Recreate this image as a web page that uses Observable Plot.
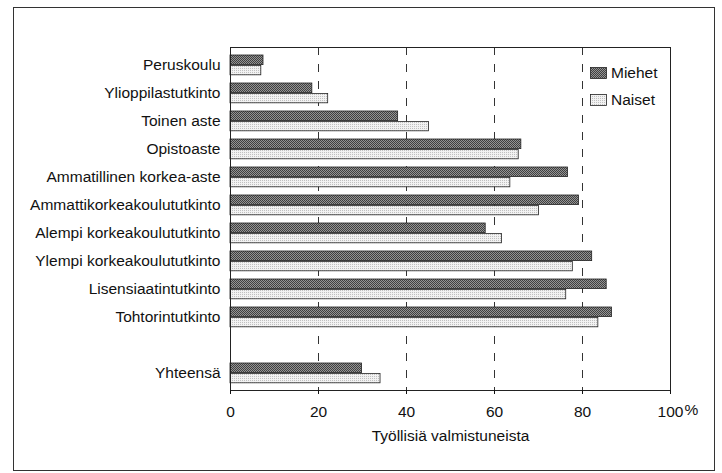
<!DOCTYPE html>
<html>
<head>
<meta charset="utf-8">
<script src="https://cdn.jsdelivr.net/npm/d3@7"></script>
<script src="https://cdn.jsdelivr.net/npm/@observablehq/plot@0.6"></script>
<style>
  html, body { margin: 0; padding: 0; background: #fff; }
  #wrap { position: relative; width: 722px; height: 473px; overflow: hidden; font-family: "Liberation Sans", Arial, sans-serif; color: #111; }
  #border { position: absolute; left: 13px; top: 7px; width: 700px; height: 462px; border: 1.5px solid #333; }
  #chart { position: absolute; left: 0; top: 0; }
  #legend { position: absolute; left: 590px; top: 59px; font-size: 15.5px; line-height: 27px; }
  #legend .item { display: flex; align-items: center; height: 27px; }
  #legend svg { margin-right: 3px; }
</style>
</head>
<body>
<svg width="0" height="0" style="position:absolute">
  <defs>
    <pattern id="pm" width="2" height="2" patternUnits="userSpaceOnUse">
      <rect width="2" height="2" fill="#949494"></rect>
      <rect x="0" y="0" width="1" height="1" fill="#404040"></rect>
      <rect x="1" y="1" width="1" height="1" fill="#404040"></rect>
    </pattern>
    <pattern id="pn" width="2" height="2" patternUnits="userSpaceOnUse">
      <rect width="2" height="2" fill="#f2f2f2"></rect>
      <rect x="0" y="0" width="1" height="1" fill="#c0c0c0"></rect>
    </pattern>
  </defs>
</svg>
<div id="wrap">
  <div id="border"></div>
  <div id="chart"></div>
  <div id="legend"></div>
</div>
<script>
const categories = ["Peruskoulu","Ylioppilastutkinto","Toinen aste","Opistoaste","Ammatillinen korkea-aste","Ammattikorkeakoulututkinto","Alempi korkeakoulututkinto","Ylempi korkeakoulututkinto","Lisensiaatintutkinto","Tohtorintutkinto","Yhteensä"];
const miehet = [7.5, 18.6, 38.1, 66.1, 76.7, 79.2, 58.0, 82.2, 85.5, 86.7, 29.9];
const naiset = [7.0, 22.2, 45.1, 65.5, 63.6, 70.1, 61.7, 77.8, 76.3, 83.6, 34.1];
const seriesNames = ["Miehet", "Naiset"];
const seriesFills = ["url(#pm)", "url(#pn)"];
const xTicks = [0, 20, 40, 60, 80, 100];
const gridTicks = [20, 40, 60, 80];
const percentSuffix = "%";
const axisTitle = "Työllisiä valmistuneista";

// y domain with an empty slot before the total row
const yDomain = [...categories.slice(0, 10), " ", categories[10]];
const rows = categories.map((c, i) => ({cat: c, m: miehet[i], n: naiset[i]}));

const font = "'Liberation Sans', Arial, sans-serif";
const chart = Plot.plot({
  width: 722,
  height: 460,
  marginLeft: 230,
  marginRight: 52,
  marginTop: 47,
  marginBottom: 70,
  style: {fontFamily: font, fontSize: "15.5px", color: "#111", background: "transparent"},
  x: {domain: [0, 100], label: null},
  y: {type: "band", domain: yDomain, padding: 0, label: null},
  marks: [
    Plot.ruleX(gridTicks, {stroke: "#333", strokeWidth: 1, strokeDasharray: "8,9"}),
    Plot.barX(rows, {x: "m", y: "cat", fill: seriesFills[0], stroke: "#222", strokeWidth: 0.8, insetTop: 4, insetBottom: 14.4}),
    Plot.barX(rows, {x: "n", y: "cat", fill: seriesFills[1], stroke: "#222", strokeWidth: 0.8, insetTop: 14.4, insetBottom: 4.2}),
    Plot.frame({stroke: "#222", strokeWidth: 1}),
    Plot.axisY({tickSize: 0, tickPadding: 10, fontSize: 15.5, label: null}),
    Plot.axisX({ticks: xTicks, tickSize: 4, tickPadding: 11, fontSize: 15.5, label: null, tickFormat: d => String(d)}),
    Plot.text([100], {x: d => d, text: () => percentSuffix, frameAnchor: "bottom", dy: 24, dx: 14, textAnchor: "start", fontSize: 15.5, fill: "#111"}),
    Plot.text([axisTitle], {frameAnchor: "bottom", dy: 50, fontSize: 15.5, fill: "#111"})
  ]
});
document.getElementById("chart").appendChild(chart);

const legend = document.getElementById("legend");
seriesNames.forEach((name, i) => {
  const item = document.createElement("div");
  item.className = "item";
  item.innerHTML = `<svg width="18" height="12"><rect x="0.5" y="0.5" width="16" height="11" fill="${seriesFills[i]}" stroke="#222" stroke-width="0.8"></rect></svg><span>${name}</span>`;
  legend.appendChild(item);
});
</script>
</body>
</html>
